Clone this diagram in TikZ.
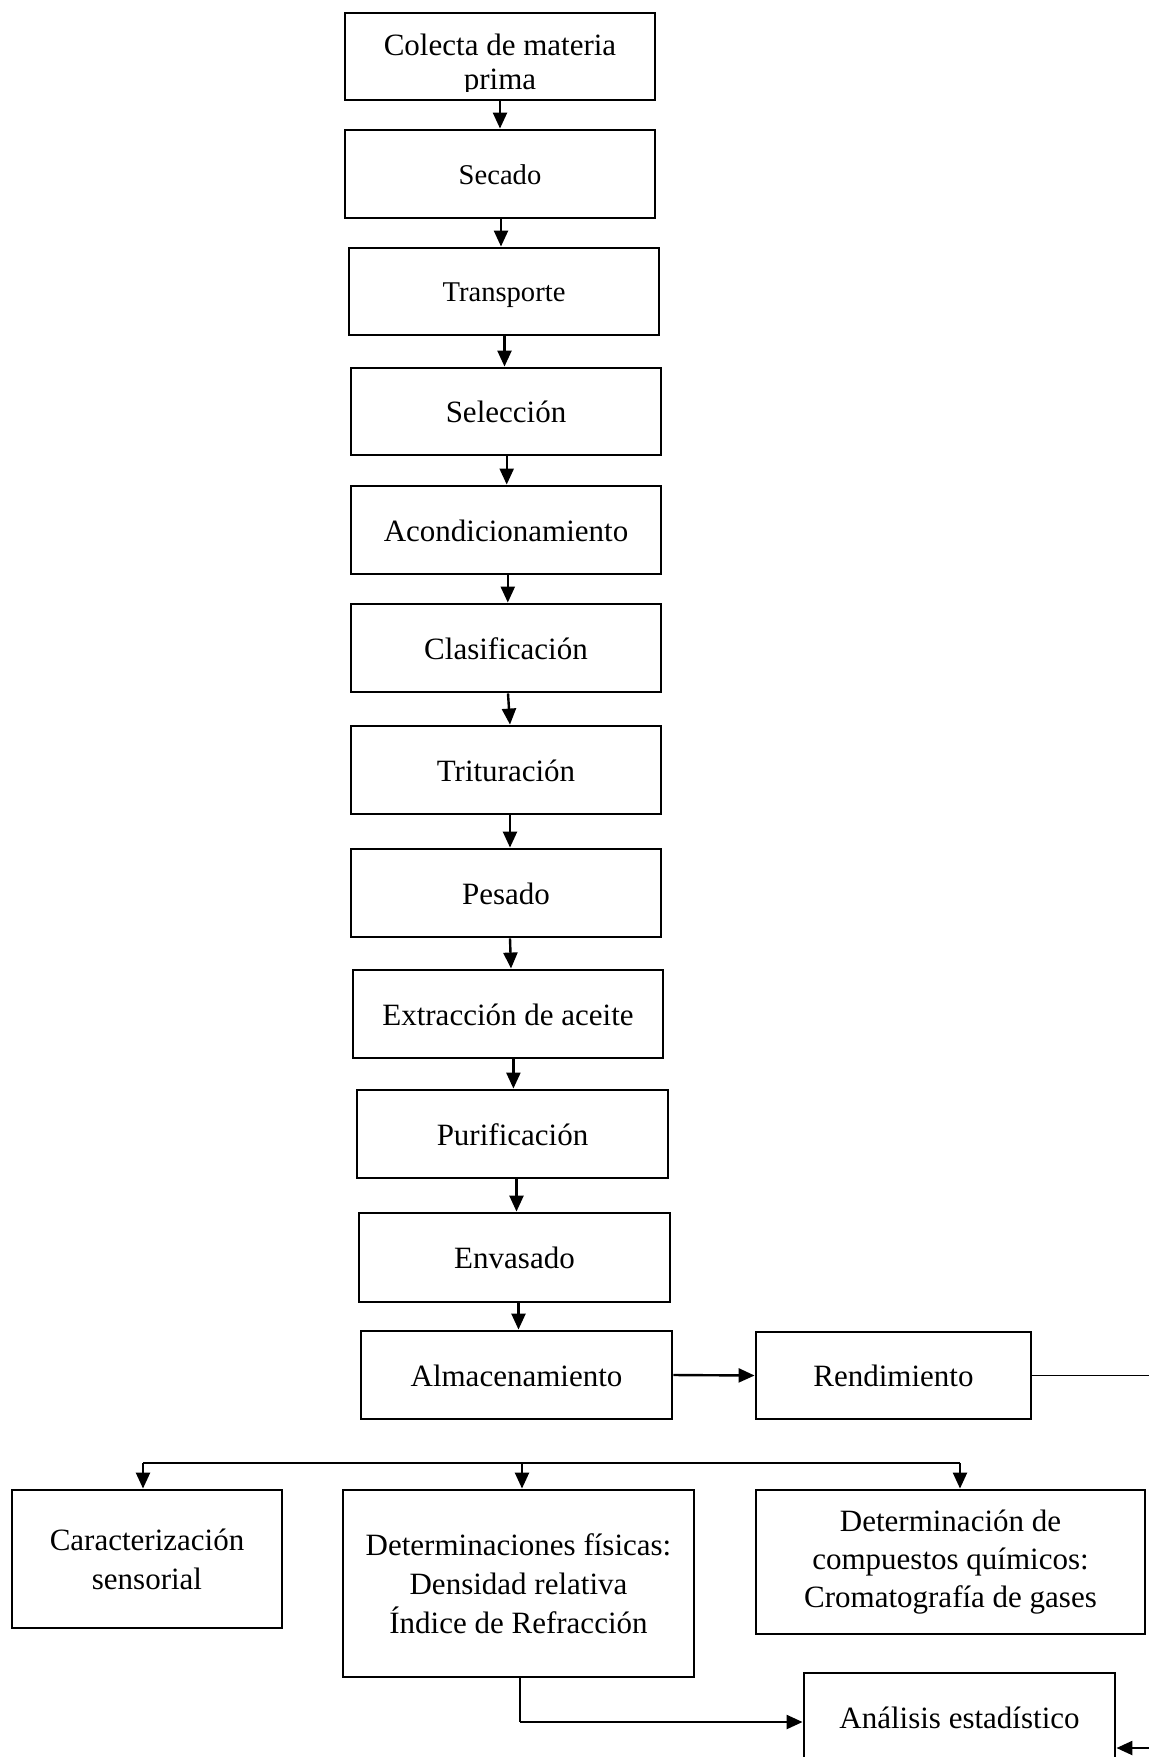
\documentclass[tikz,border=0pt]{standalone}
\usepackage{fontspec}
\setmainfont{Liberation Serif}
\usetikzlibrary{arrows.meta}
\tikzset{
  box/.style={draw, line width=1.45pt, inner sep=0pt, align=center,
    font=\fontsize{15.5pt}{19.5pt}\selectfont},
  one/.style={text height=11pt, text depth=0pt},
  small/.style={font=\fontsize{14.3pt}{17pt}\selectfont, text height=10.2pt, text depth=0pt},
  arr/.style={line width=1.2pt, -{Triangle[width=7pt,length=8pt]}},
  thinln/.style={line width=0.7pt},
}
\begin{document}
\begin{tikzpicture}[x=0.5pt,y=-0.5pt]
\useasboundingbox (0,0) rectangle (1149,1757);
\fill[white] (0,0) rectangle (1149,1757);
\clip (0,0) rectangle (1149,1757);

% first box: text clipped at the bottom as in the reference
\begin{scope}
  \clip (340,0) rectangle (670,91);
  \node[box, draw=none, font=\fontsize{15.5pt}{17pt}\selectfont] (colectatxt) at (500,65) {Colecta de materia\\prima};
\end{scope}
\node[box, minimum width=155pt, minimum height=43.5pt] (colecta) at (500,56.5) {};

\node[box, small, minimum width=155pt, minimum height=44pt] (secado) at (500,174) {Secado};
\node[box, small, minimum width=155pt, minimum height=43.5pt] (transporte) at (504,291.5) {Transporte};
\node[box, one, minimum width=155pt, minimum height=43.5pt] (seleccion) at (506,411.5) {Selección};
\node[box, one, minimum width=155pt, minimum height=44pt] (acond) at (506,530) {Acondicionamiento};
\node[box, one, minimum width=155pt, minimum height=44pt] (clasif) at (506,648) {Clasificación};
\node[box, one, minimum width=155pt, minimum height=44pt] (tritur) at (506,770) {Trituración};
\node[box, one, minimum width=155pt, minimum height=44pt] (pesado) at (506,893) {Pesado};
\node[box, one, minimum width=155pt, minimum height=44pt] (extrac) at (508,1014) {Extracción de aceite};
\node[box, one, minimum width=155.5pt, minimum height=44pt] (purif) at (512.5,1134) {Purificación};
\node[box, one, minimum width=155.5pt, minimum height=44.5pt] (envas) at (514.5,1257.5) {Envasado};
\node[box, one, minimum width=155.5pt, minimum height=44pt] (almac) at (516.5,1375) {Almacenamiento};
\node[box, one, minimum width=137.5pt, minimum height=43.5pt] (rend) at (893.5,1375.5) {Rendimiento};

\node[box, minimum width=135pt, minimum height=69pt] (caract) at (147,1559) {Caracterización\\sensorial};
\node[box, minimum width=175.5pt, minimum height=93.5pt] (detfis) at (518.5,1583.5) {Determinaciones físicas:\\Densidad relativa\\Índice de Refracción};
\node[box, minimum width=194.5pt, minimum height=72pt, font=\fontsize{15.5pt}{19pt}\selectfont] (detquim) at (950.5,1562) {Determinación de\\compuestos químicos:\\Cromatografía de gases};
\node[box, one, minimum width=155.5pt, minimum height=44pt] (analisis) at (959.5,1717) {Análisis estadístico};

% vertical flow
\draw[arr] (colecta.south -| 500,0) -- (secado.north -| 500,0);
\draw[arr] (secado.south -| 501,0) -- (transporte.north -| 501,0);
\draw[arr] (transporte.south -| 504.5,0) -- (seleccion.north -| 504.5,0);
\draw[arr] (seleccion.south -| 506.7,0) -- (acond.north -| 506.7,0);
\draw[arr] (acond.south -| 507.8,0) -- (clasif.north -| 507.8,0);
\draw[arr] (clasif.south -| 508,0) -- (tritur.north -| 510,0);
\draw[arr] (tritur.south -| 510,0) -- (pesado.north -| 510,0);
\draw[arr] (pesado.south -| 510,0) -- (extrac.north -| 511,0);
\draw[arr] (extrac.south -| 513.4,0) -- (purif.north -| 513.4,0);
\draw[arr] (purif.south -| 516.5,0) -- (envas.north -| 516.5,0);
\draw[arr] (envas.south -| 518.5,0) -- (almac.north -| 518.5,0);

\draw[arr] (almac.east) -- (rend.west);

% line from Rendimiento leaving the picture on the right and returning to Análisis
\coordinate (rc1) at (1180,1748);
\draw[thinln] (rend.east) -| (rc1);
\draw[arr] (rc1) -- (analisis.east |- rc1);

% branch to the three analyses
\coordinate (bl) at (143,1463);
\coordinate (bm) at (522,1463);
\coordinate (br) at (960,1463);
\draw[thinln] (bl) -- (br);
\draw[arr] (bl) -- (caract.north -| bl);
\draw[arr] (bm) -- (detfis.north -| bm);
\draw[arr] (br) -- (detquim.north -| br);

% Determinaciones físicas -> Análisis estadístico
\coordinate (dfc) at (520,1722);
\draw[thinln] (detfis.south -| dfc) -- (dfc);
\draw[arr] (dfc) -- (analisis.west |- dfc);
\end{tikzpicture}
\end{document}
